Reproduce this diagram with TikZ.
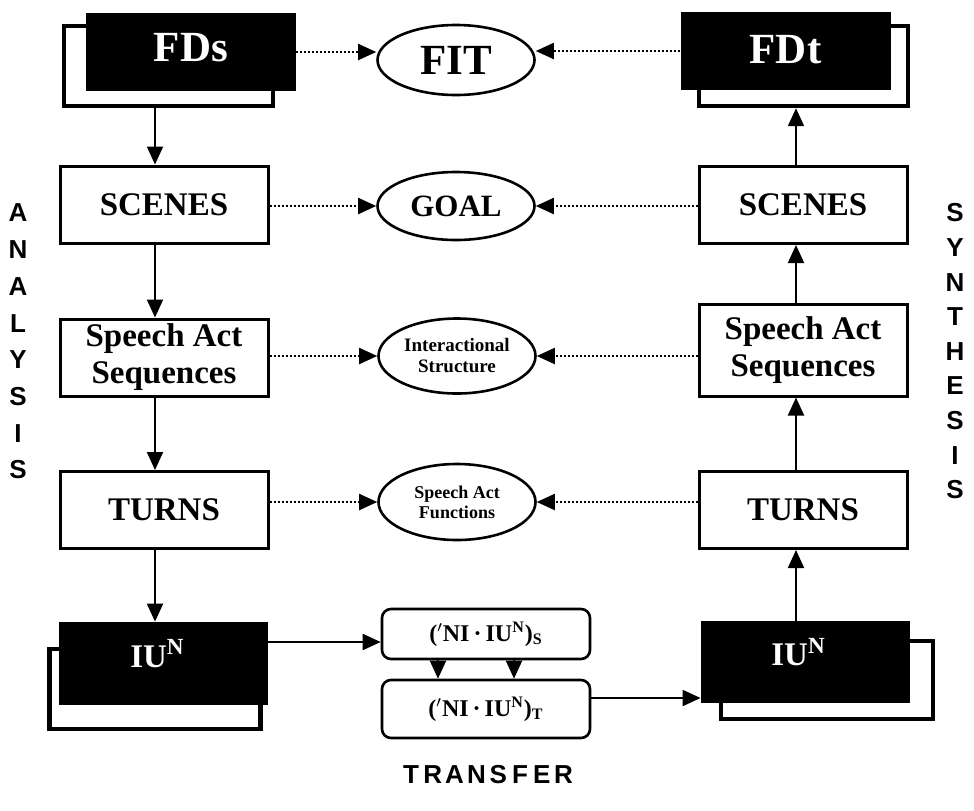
\documentclass[tikz,border=0pt]{standalone}
\usepackage{fontspec}
\setmainfont{Liberation Serif}
\newfontfamily\helv{Liberation Sans}
\usetikzlibrary{shapes.geometric,arrows.meta}

\begin{document}
\begin{tikzpicture}[x=0.5pt,y=-0.5pt,
    wbox/.style={draw,line width=1.5pt,fill=white,minimum width=104pt,minimum height=38.5pt,inner sep=0pt,align=center,font=\bfseries\fontsize{16.5}{18.5}\selectfont},
    bbox/.style={fill=black,text=white,minimum width=105pt,minimum height=39pt,inner sep=0pt,font=\bfseries\fontsize{21.5}{24}\selectfont},
    back/.style={draw,line width=2.2pt,fill=white,inner sep=0pt},
    oval/.style={ellipse,draw,line width=1.3pt,fill=white,minimum width=78.5pt,minimum height=35pt,inner sep=0pt,align=center},
    rbox/.style={draw,rounded corners=4.5pt,line width=1.3pt,minimum width=104pt,inner sep=0pt,font=\bfseries\fontsize{12}{14}\selectfont},
    flow/.style={line width=1pt,-{Triangle[length=9pt,width=8pt]}},
    dots/.style={densely dotted,line width=1pt,-{Triangle[length=9pt,width=8pt]}},
    side/.style={font=\helv\bfseries\fontsize{13}{14}\selectfont,inner sep=0pt}]
    \useasboundingbox (0,0) rectangle (974,810);

    % analysis column
    \node[back,minimum width=104.5pt,minimum height=40pt] (lfdb) at (168.5,66) {};
    \node[bbox] (lfd) at (191,52) {\raisebox{5pt}{FDs}};
    \node[wbox] (lscn) at (164,204.5) {SCENES};
    \node[wbox] (lsas) at (164,357.5) {Speech Act\\Sequences};
    \node[wbox] (lturn) at (164,510) {TURNS};
    \node[back,minimum width=105.5pt,minimum height=40pt] (liub) at (155,689) {};
    \node[bbox,minimum width=104.5pt,minimum height=41.5pt,font=\bfseries\fontsize{16.5}{18}\selectfont] (liu) at (163.5,663.5) {\hspace*{-6pt}\raisebox{10pt}{IU\textsuperscript{N}}};

    % synthesis column
    \node[back,minimum width=104.5pt,minimum height=40pt] (rfdb) at (803.5,66) {};
    \node[bbox] (rfd) at (785.5,51) {\raisebox{1.5pt}{FDt}};
    \node[wbox] (rscn) at (803,205) {SCENES};
    \node[wbox,minimum height=46pt] (rsas) at (803,350) {Speech Act\\Sequences};
    \node[wbox] (rturn) at (803,510) {TURNS};
    \node[back,minimum width=106pt,minimum height=39pt] (riub) at (827,680) {};
    \node[bbox,minimum width=104.5pt,minimum height=41pt,font=\bfseries\fontsize{16.5}{18}\selectfont] (riu) at (805.5,662) {\hspace*{-7pt}\raisebox{10pt}{IU\textsuperscript{N}}};

    % middle
    \node[oval,font=\bfseries\fontsize{21.5}{24}\selectfont] (fit) at (456,60) {FIT};
    \node[oval,minimum height=34pt,font=\bfseries\fontsize{15.5}{18}\selectfont] (goal) at (456,206) {GOAL};
    \node[oval,minimum height=37.5pt,font=\bfseries\fontsize{9.5}{10.5}\selectfont] (inter) at (457,356) {Interactional\\Structure};
    \node[oval,minimum height=38pt,font=\bfseries\fontsize{9}{10}\selectfont] (saf) at (457,502) {Speech Act\\Functions};
    \node[rbox,minimum height=25pt] (src) at (486,634) {(${}^{\prime}$NI\,·\,IU\textsuperscript{N})\textsubscript{S}};
    \node[rbox,minimum height=29pt] (tgt) at (486,709) {(${}^{\prime}$NI\,·\,IU\textsuperscript{N})\textsubscript{T}};

    \coordinate (lcol) at (155,0);
    \coordinate (rcol) at (796,0);

    \draw[flow] (lfdb.south -| lcol) -- (lscn.north -| lcol);
    \draw[flow] (lscn.south -| lcol) -- (lsas.north -| lcol);
    \draw[flow] (lsas.south -| lcol) -- (lturn.north -| lcol);
    \draw[flow] (lturn.south -| lcol) -- (liu.north -| lcol);
    \draw[flow] (riu.north -| rcol) -- (rturn.south -| rcol);
    \draw[flow] (rturn.north -| rcol) -- (rsas.south -| rcol);
    \draw[flow] (rsas.north -| rcol) -- (rscn.south -| rcol);
    \draw[flow] (rscn.north -| rcol) -- (rfdb.south -| rcol);

    \draw[dots] (lfd.east) -- (lfd.east -| fit.west);
    \draw[dots] (rfd.west) -- (rfd.west -| fit.east);
    \draw[dots] (lscn.east |- goal.west) -- (goal.west);
    \draw[dots] (rscn.west |- goal.east) -- (goal.east);
    \draw[dots] (lsas.east |- inter.west) -- (inter.west);
    \draw[dots] (rsas.west |- inter.east) -- (inter.east);
    \draw[dots] (lturn.east |- saf.west) -- (saf.west);
    \draw[dots] (rturn.west |- saf.east) -- (saf.east);

    \draw[flow] ([yshift=-4pt]src.west -| liu.east) -- ([yshift=-4pt]src.west);
    \draw[flow] ([xshift=-24pt]src.south) -- ([xshift=-24pt]tgt.north);
    \draw[flow] ([xshift=14pt]src.south) -- ([xshift=14pt]tgt.north);
    \draw[flow] ([yshift=5.5pt]tgt.east) -- ([yshift=5.5pt]tgt.east -| riu.west);

    % side labels
    \foreach \l [count=\i from 0] in {A,N,A,L,Y,S,I,S}
        \node[side] (ana\i) at (18,{213+36.7*\i}) {\l};
    \foreach \l [count=\i from 0] in {S,Y,N,T,H,E,S,I,S}
        \node[side] (syn\i) at (955,{213+34.6*\i}) {\l};
    \foreach \l [count=\i from 0] in {T,R,A,N,S,F,E,R}
        \node[side] (tr\i) at ({411+21.8*\i},775) {\l};
\end{tikzpicture}
\end{document}
